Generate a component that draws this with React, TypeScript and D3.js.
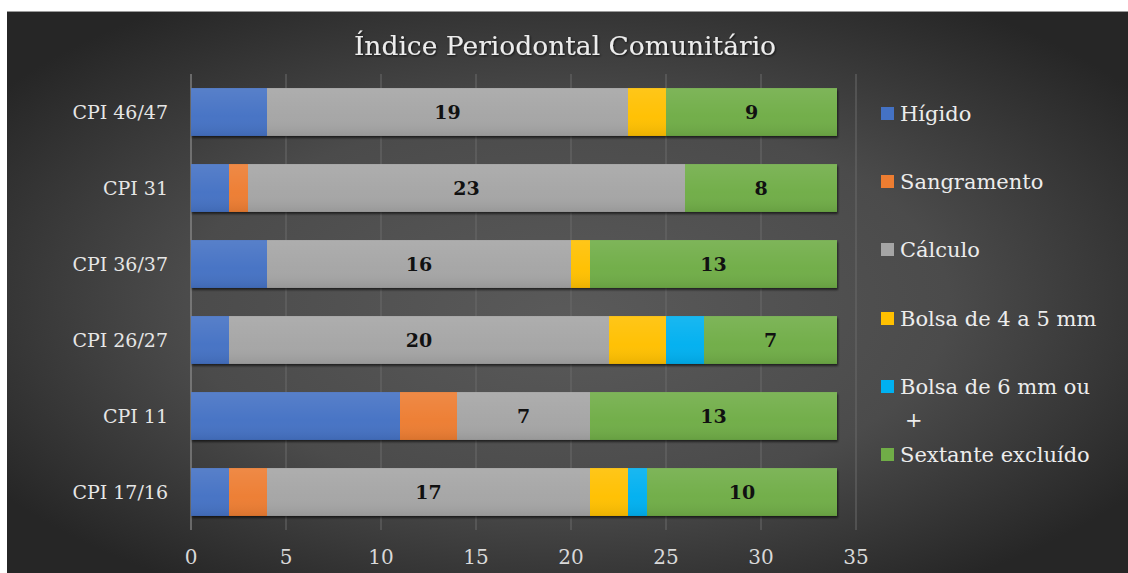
import React from "react";
import * as d3 from "d3";

const categories = ["CPI 46/47", "CPI 31", "CPI 36/37", "CPI 26/27", "CPI 11", "CPI 17/16"];
const seriesNames = ["Hígido", "Sangramento", "Cálculo", "Bolsa de 4 a 5 mm", "Bolsa de 6 mm ou +", "Sextante excluído"];
const higido = [4, 2, 4, 2, 11, 2];
const sangramento = [0, 1, 0, 0, 3, 2];
const calculo = [19, 23, 16, 20, 7, 17];
const bolsa45 = [2, 0, 1, 3, 0, 2];
const bolsa6 = [0, 0, 0, 2, 0, 1];
const sextante = [9, 8, 13, 7, 13, 10];
const colors = ["#4472C4", "#ED7D31", "#A5A5A5", "#FFC000", "#00B0F0", "#70AD47"];
const labeledSeries = [2, 5];
const xTicks = [0, 5, 10, 15, 20, 25, 30, 35];

const W = 1128;
const H = 573;
const FONT = "'DejaVu Serif', 'Liberation Serif', serif";

export default function App() {
  const values = [higido, sangramento, calculo, bolsa45, bolsa6, sextante];
  const rows = categories.map((c, i) => {
    const r: any = { cat: c };
    seriesNames.forEach((s, j) => (r[s] = values[j][i]));
    return r;
  });
  const stacked = d3.stack<any>().keys(seriesNames)(rows);

  const x = d3.scaleLinear().domain([0, 35]).range([191, 856]);
  const y = d3.scaleBand().domain(categories).range([74, 530]).paddingInner(0.37).paddingOuter(0.185);

  const legendY = [121, 189, 257, 326, 394, 462];

  return (
    <div style={{ position: "fixed", left: 0, top: 0, width: W, height: H, background: "#fff" }}>
      <svg width={W} height={H} style={{ display: "block" }}>
        <defs>
          <radialGradient id="bg" cx="50%" cy="50%" r="62%" fx="50%" fy="55%">
            <stop offset="0%" stopColor="#5a5a5a" />
            <stop offset="55%" stopColor="#4b4b4b" />
            <stop offset="100%" stopColor="#262626" />
          </radialGradient>
          <linearGradient id="shine" x1="0" y1="0" x2="0" y2="1">
            <stop offset="0%" stopColor="#fff" stopOpacity="0.1" />
            <stop offset="60%" stopColor="#fff" stopOpacity="0.02" />
            <stop offset="100%" stopColor="#000" stopOpacity="0.08" />
          </linearGradient>
          <filter id="sh" x="-5%" y="-20%" width="110%" height="150%">
            <feDropShadow dx="1" dy="2" stdDeviation="1.2" floodColor="#000" floodOpacity="0.6" />
          </filter>
          <filter id="tsh" x="-5%" y="-20%" width="110%" height="150%">
            <feDropShadow dx="1" dy="1" stdDeviation="1" floodColor="#000" floodOpacity="0.7" />
          </filter>
        </defs>
        <rect x={7} y={11} width={W - 7} height={H - 11} fill="url(#bg)" />
        <line x1={7} x2={W} y1={11.5} y2={11.5} stroke="#9a9a9a" strokeWidth={1} />

        <text x={565} y={55} textAnchor="middle" fill="#ececec" fontFamily={FONT} fontSize={26.5} filter="url(#tsh)">
          Índice Periodontal Comunitário
        </text>

        {xTicks.map((t) => (
          <line key={t} x1={x(t)} x2={x(t)} y1={74} y2={530} stroke={t === 0 ? "#a0a0a0" : "#6a6a6a"} strokeWidth={1} />
        ))}
        {xTicks.map((t) => (
          <text key={"t" + t} x={x(t)} y={564} textAnchor="middle" fill="#d9d9d9" fontFamily={FONT} fontSize={20}>
            {t}
          </text>
        ))}

        {categories.map((c) => (
          <text key={c} x={168} y={(y(c) as number) + y.bandwidth() / 2 + 7} textAnchor="end" fill="#e6e6e6" fontFamily={FONT} fontSize={19}>
            {c}
          </text>
        ))}

        <g filter="url(#sh)">
          {stacked.map((s, j) =>
            s.map((d, i) =>
              d[1] - d[0] > 0 ? (
                <rect key={j + "-" + i} x={x(d[0])} y={y(categories[i]) as number} width={x(d[1]) - x(d[0])} height={y.bandwidth()} fill={colors[j]} />
              ) : null
            )
          )}
        </g>
        {stacked.map((s, j) =>
          s.map((d, i) =>
            d[1] - d[0] > 0 ? (
              <rect key={"g" + j + "-" + i} x={x(d[0])} y={y(categories[i]) as number} width={x(d[1]) - x(d[0])} height={y.bandwidth()} fill="url(#shine)" />
            ) : null
          )
        )}
        {stacked.map((s, j) =>
          labeledSeries.includes(j)
            ? s.map((d, i) => (
                <text key={"l" + j + "-" + i} x={(x(d[0]) + x(d[1])) / 2} y={(y(categories[i]) as number) + y.bandwidth() / 2 + 7} textAnchor="middle" fill="#111" fontFamily={FONT} fontSize={19} fontWeight={600}>
                  {d[1] - d[0]}
                </text>
              ))
            : null
        )}

        {seriesNames.map((s, j) => (
          <g key={s}>
            <rect x={881} y={legendY[j] - 14} width={13} height={13} fill={colors[j]} />
            {j === 4 ? (
              <text fill="#ececec" fontFamily={FONT} fontSize={21}>
                <tspan x={900} y={legendY[j]}>Bolsa de 6 mm ou</tspan>
                <tspan x={905} y={legendY[j] + 33}>+</tspan>
              </text>
            ) : (
              <text x={900} y={legendY[j]} fill="#ececec" fontFamily={FONT} fontSize={21}>
                {s}
              </text>
            )}
          </g>
        ))}
      </svg>
    </div>
  );
}
